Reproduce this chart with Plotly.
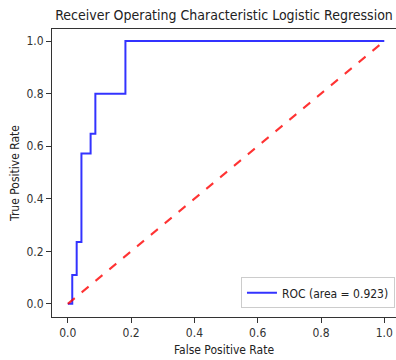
import plotly.graph_objects as go

fpr = [0.0, 0.014, 0.028, 0.043, 0.072, 0.087, 0.182, 1.0]
tpr = [0.0, 0.11, 0.235, 0.572, 0.647, 0.80, 1.0, 1.0]
diag_x = [0.0, 1.0]
diag_y = [0.0, 1.0]
auc = 0.923
ticks = [0.0, 0.2, 0.4, 0.6, 0.8, 1.0]
tick_text = ["0.0", "0.2", "0.4", "0.6", "0.8", "1.0"]

font = "DejaVu Sans Condensed, DejaVu Sans"
fig = go.Figure()
fig.add_trace(go.Scatter(x=fpr, y=tpr, mode="lines", line_shape="hv",
                         line=dict(color="rgba(0,0,255,0.8)", width=2),
                         name=f"ROC (area = {auc:.3f})"))
fig.add_trace(go.Scatter(x=diag_x, y=diag_y, mode="lines",
                         line=dict(color="rgba(255,0,0,0.8)", width=2, dash="dash"),
                         showlegend=False))

axis_common = dict(showline=True, mirror=True, linecolor="#333", linewidth=1,
                   ticks="outside", ticklen=5, tickcolor="#333", showgrid=False,
                   zeroline=False, tickvals=ticks, ticktext=tick_text,
                   tickfont=dict(family=font, size=12, color="#333"))
fig.update_xaxes(range=[-0.05, 1.037], title=dict(text="False Positive Rate",
                 font=dict(family=font, size=12, color="#222"), standoff=6), **axis_common)
fig.update_yaxes(range=[-0.05, 1.046], title=dict(text="True Positive Rate",
                 font=dict(family=font, size=12, color="#222"), standoff=4), **axis_common)

fig.update_layout(
    width=396, height=360,
    margin=dict(l=52, r=0, t=29, b=43),
    plot_bgcolor="white", paper_bgcolor="white",
    title=dict(text="Receiver Operating Characteristic Logistic Regression",
               font=dict(family=font, size=14, color="#222"),
               x=0.5, xref="paper", xanchor="center", y=0.958, yanchor="middle"),
    legend=dict(x=0.997, y=0.03, xanchor="right", yanchor="bottom",
                bordercolor="#ccc", borderwidth=1, bgcolor="white",
                itemwidth=30,
                font=dict(family=font, size=12, color="#222")),
)
fig.write_html("out.html")
